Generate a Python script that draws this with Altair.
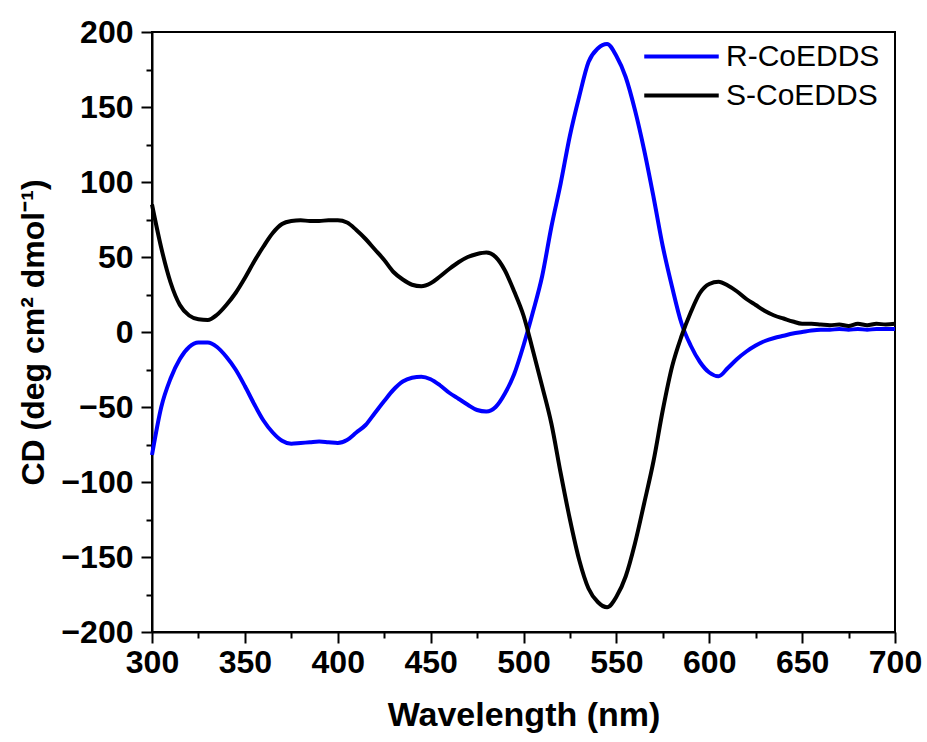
import altair as alt
import pandas as pd

# CD spectra of the two enantiomers, sampled every 5 nm
wavelength = list(range(300, 701, 5))

r_coedds = [
    -82, -50, -31, -18, -10, -7, -7, -10, -16.5, -25,
    -36, -48, -59, -67, -72.5, -74.5, -74, -73.5, -73, -73.5,
    -74, -72, -67, -62, -54, -46, -38.5, -33, -30.5, -29.8,
    -31.5, -35.5, -40.5, -44.5, -48.5, -52, -53, -50, -41, -28,
    -9, 13, 37, 70, 99, 131, 157, 180, 189, 192,
    184, 170, 148, 121, 90, 57, 30, 6, -9, -20,
    -27, -29.5, -24, -18, -13, -9, -6, -4, -2.5, -1,
    0, 1, 1.5, 1.5, 2, 1.5, 2, 1.5, 2, 2,
    2,
]

s_coedds = [
    85, 56, 33, 18, 11, 8.5, 8, 11.5, 18, 26,
    36, 47, 57, 66, 72, 74, 74.5, 74, 74, 74.5,
    74.5, 73, 68, 62, 55, 48, 40, 35, 31.5, 30.5,
    32.5, 37, 42, 46.5, 50, 52, 53, 50, 41, 27,
    11, -12, -36, -61, -94, -125, -152, -171, -180, -183.5,
    -176.5, -163, -141, -114, -86, -52, -23, -3, 13, 26,
    32, 33.5, 31, 27, 22, 18, 14, 11, 9, 7,
    5.5, 5.5, 5, 4.5, 5, 4, 5.5, 4.5, 5.5, 5,
    5.5,
]

series_names = ["R-CoEDDS", "S-CoEDDS"]
series_colors = ["#0000ff", "#000000"]

x_ticks = list(range(300, 701, 25))
y_ticks = list(range(-200, 201, 25))

n = len(wavelength)
df = pd.DataFrame({
    "Wavelength": wavelength * 2,
    "CD": r_coedds + s_coedds,
    "Sample": [series_names[0]] * n + [series_names[1]] * n,
})

FONT = "Liberation Sans"

# long ticks on multiples of 50, short ones in between
major_size = {"condition": {"test": "datum.value % 50 === 0", "value": 11}, "value": 6}

x_axis = alt.Axis(
    title="Wavelength (nm)",
    values=x_ticks,
    labelExpr="datum.value % 50 === 0 ? datum.label : ''",
    labelFlush=False,
    labelOverlap=False,
    tickSize=major_size,
    tickWidth=2,
    tickColor="black",
    domainColor="black",
    domainWidth=2,
    grid=False,
    labelFont=FONT,
    labelFontSize=32,
    labelFontWeight="bold",
    labelColor="black",
    labelPadding=4,
    titleFont=FONT,
    titleFontSize=34,
    titleFontWeight="bold",
    titleColor="black",
    titlePadding=20,
)

y_axis = alt.Axis(
    title="CD (deg cm² dmol⁻¹)",
    values=y_ticks,
    labelExpr="datum.value % 50 === 0 ? datum.label : ''",
    labelFlush=False,
    labelOverlap=False,
    tickSize=major_size,
    tickWidth=2,
    tickColor="black",
    domainColor="black",
    domainWidth=2,
    grid=False,
    labelFont=FONT,
    labelFontSize=32,
    labelFontWeight="bold",
    labelColor="black",
    labelPadding=8,
    titleFont=FONT,
    titleFontSize=32,
    titleFontWeight="bold",
    titleColor="black",
    titlePadding=10,
)

chart = (
    alt.Chart(df)
    .mark_line(strokeWidth=4, interpolate="monotone")
    .encode(
        x=alt.X("Wavelength:Q", scale=alt.Scale(domain=[300, 700], nice=False, zero=False), axis=x_axis),
        y=alt.Y("CD:Q", scale=alt.Scale(domain=[-200, 200], nice=False), axis=y_axis),
        color=alt.Color(
            "Sample:N",
            scale=alt.Scale(domain=series_names, range=series_colors),
            legend=alt.Legend(
                title=None,
                orient="none",
                legendX=490,
                legendY=5,
                symbolType="stroke",
                symbolSize=5550,
                symbolStrokeWidth=4,
                labelFont=FONT,
                labelFontSize=30,
                labelColor="black",
                labelOffset=5,
                clipHeight=39,
                rowPadding=0,
                padding=0,
            ),
        ),
    )
    .properties(
        width=743,
        height=600,
        autosize=alt.AutoSizeParams(type="none"),
        padding={"left": 152, "top": 32, "right": 32, "bottom": 110},
        background="white",
    )
    .configure_view(stroke="black", strokeWidth=2)
)

chart.save("out.html", embed_options={"renderer": "svg", "actions": False})
